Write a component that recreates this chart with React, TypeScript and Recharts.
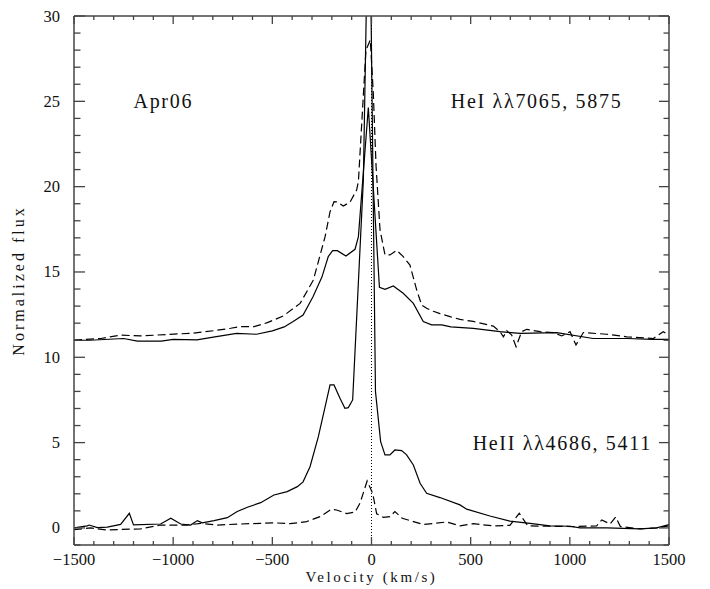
import React from 'react';
import { LineChart, Line, XAxis, YAxis, ReferenceLine, ReferenceDot } from 'recharts';

// ---------- data (velocity in km/s, normalized flux) ----------
const heiSolidVel = [-1500, -1420, -1250, -1180, -1060, -1000, -880, -790, -680, -580, -500, -440, -395, -345, -295, -250, -218, -196, -172, -129, -83, -66, -16, 40, 68, 110, 160, 211, 261, 303, 354, 400, 513, 648, 749, 934, 1118, 1287, 1420, 1500];
const heiSolidFlux = [11.0, 11.0, 11.1, 10.95, 10.95, 11.05, 11.02, 11.2, 11.4, 11.35, 11.55, 11.78, 12.1, 12.48, 13.55, 14.7, 15.9, 16.25, 16.25, 15.93, 16.33, 17.07, 24.64, 14.1, 13.98, 14.18, 13.75, 13.16, 12.09, 11.9, 11.9, 11.78, 11.7, 11.5, 11.4, 11.45, 11.1, 11.1, 11.05, 11.05];

const heiDashedVel = [-1500, -1365, -1265, -1164, -996, -912, -794, -710, -660, -592, -525, -445, -360, -293, -234, -209, -189, -172, -142, -108, -75, -66, -28, -6, 9, 23, 43, 68, 93, 127, 160, 194, 228, 253, 278, 312, 345, 396, 446, 513, 614, 648, 665, 682, 707, 729, 757, 783, 850, 917, 959, 1001, 1031, 1068, 1186, 1287, 1421, 1471, 1500];
const heiDashedFlux = [11.0, 11.1, 11.3, 11.25, 11.36, 11.4, 11.56, 11.7, 11.8, 11.8, 12.03, 12.42, 13.16, 14.53, 17.07, 18.53, 19.12, 19.1, 18.86, 19.1, 19.8, 20.3, 28.0, 28.6, 25.5, 21.2, 17.46, 16.0, 16.0, 16.27, 15.9, 15.4, 13.94, 13.06, 12.87, 12.7, 12.56, 12.38, 12.22, 12.1, 11.83, 11.5, 11.2, 11.56, 11.3, 10.62, 11.5, 11.64, 11.5, 11.45, 11.25, 11.5, 10.72, 11.45, 11.35, 11.2, 11.1, 11.5, 11.3];

const heiiSolidVel = [-1500, -1433, -1424, -1382, -1332, -1265, -1221, -1200, -1063, -1012, -962, -912, -878, -853, -794, -727, -677, -626, -559, -492, -425, -374, -345, -310, -268, -234, -209, -189, -159, -134, -117, -95, -41, -12, 20, 46, 68, 93, 118, 152, 177, 211, 245, 278, 345, 446, 480, 597, 698, 799, 900, 1001, 1051, 1186, 1354, 1438, 1500];
const heiiSolidFlux = [0.0, 0.12, 0.17, 0.02, 0.05, 0.21, 0.86, 0.18, 0.23, 0.57, 0.23, 0.17, 0.43, 0.3, 0.43, 0.6, 0.96, 1.21, 1.48, 1.93, 2.13, 2.42, 2.7, 3.59, 5.35, 7.1, 8.38, 8.38, 7.6, 7.01, 7.05, 7.5, 20.4, 40.0, 8.0, 5.06, 4.28, 4.28, 4.57, 4.53, 4.28, 3.69, 2.62, 2.03, 1.78, 1.35, 1.1, 0.7, 0.4, 0.27, 0.12, 0.1, 0.0, 0.0, -0.05, 0.0, 0.2];

const heiiDashedVel = [-1500, -1416, -1335, -1164, -1063, -930, -861, -777, -660, -562, -495, -411, -327, -260, -201, -176, -125, -83, -58, -22, 6, 26, 60, 93, 118, 155, 211, 261, 379, 446, 513, 614, 698, 745, 788, 900, 1017, 1135, 1161, 1203, 1231, 1255, 1354, 1438, 1500];
const heiiDashedFlux = [-0.1, 0.0, -0.12, -0.05, 0.17, 0.17, 0.27, 0.17, 0.23, 0.27, 0.3, 0.25, 0.37, 0.66, 1.1, 1.05, 0.84, 0.93, 1.45, 2.75, 2.03, 0.83, 0.62, 0.66, 0.96, 0.57, 0.37, 0.2, 0.35, 0.12, 0.25, 0.12, 0.15, 0.86, 0.12, 0.1, 0.08, 0.12, 0.47, 0.23, 0.64, 0.08, -0.05, 0.0, 0.12];

// ---------- ticks & labels ----------
const xMajorTicks = [-1500, -1000, -500, 0, 500, 1000, 1500];
const xMinorTicks = [-1500, -1400, -1300, -1200, -1100, -1000, -900, -800, -700, -600, -500, -400, -300, -200, -100, 0, 100, 200, 300, 400, 500, 600, 700, 800, 900, 1000, 1100, 1200, 1300, 1400, 1500];
const yMajorTicks = [0, 5, 10, 15, 20, 25, 30];
const yMinorTicks = [-1, 0, 1, 2, 3, 4, 5, 6, 7, 8, 9, 10, 11, 12, 13, 14, 15, 16, 17, 18, 19, 20, 21, 22, 23, 24, 25, 26, 27, 28, 29, 30];
const xTitle = 'Velocity (km/s)';
const yTitle = 'Normalized flux';
const epochLabel = 'Apr06';
const heiLabel = 'HeI λλ7065, 5875';
const heiiLabel = 'HeII λλ4686, 5411';

const rows = (vs: number[], fs: number[]) => vs.map((v, i) => ({ v, f: fs[i] }));
const heiSolidData = rows(heiSolidVel, heiSolidFlux);
const heiDashedData = rows(heiDashedVel, heiDashedFlux);
const heiiSolidData = rows(heiiSolidVel, heiiSolidFlux);
const heiiDashedData = rows(heiiDashedVel, heiiDashedFlux);

const FONT = "'Liberation Serif', 'Times New Roman', serif";
const AXIS = '#444';
const fmt = (v: number) => (v < 0 ? '\u2212' + Math.abs(v) : String(v));

const BottomTick = (p: any) => {
  const { x, y, payload } = p;
  const major = xMajorTicks.includes(payload.value);
  return (
    <g>
      <line x1={x} x2={x} y1={y} y2={y - (major ? 8 : 4)} stroke={AXIS} strokeWidth={1.3} />
      {major && (
        <text x={x} y={y + 20} textAnchor="middle" fontFamily={FONT} fontSize={16.5} fill="#111">{fmt(payload.value)}</text>
      )}
    </g>
  );
};
const TopTick = (p: any) => {
  const { x, y, payload } = p;
  const major = xMajorTicks.includes(payload.value);
  return <line x1={x} x2={x} y1={y} y2={y + (major ? 8 : 4)} stroke={AXIS} strokeWidth={1.3} />;
};
const LeftTick = (p: any) => {
  const { x, y, payload } = p;
  const major = yMajorTicks.includes(payload.value);
  return (
    <g>
      <line x1={x} x2={x + (major ? 11 : 6.5)} y1={y} y2={y} stroke={AXIS} strokeWidth={1.3} />
      {major && (
        <text x={x - 14} y={y + 5.5} textAnchor="end" fontFamily={FONT} fontSize={16.5} fill="#111">{fmt(payload.value)}</text>
      )}
    </g>
  );
};
const RightTick = (p: any) => {
  const { x, y, payload } = p;
  const major = yMajorTicks.includes(payload.value);
  return <line x1={x} x2={x - (major ? 10 : 5.5)} y1={y} y2={y} stroke={AXIS} strokeWidth={1.3} />;
};

const textLabel = (text: string) => (props: any) => {
  const vb = props.viewBox || {};
  return (
    <text x={vb.x} y={vb.y} fontFamily={FONT} fontSize={20} letterSpacing={1.7} fill="#111">{text}</text>
  );
};

const XTitle = (props: any) => {
  const vb = props.viewBox;
  return (
    <text x={vb.x + vb.width / 2} y={vb.y + 37} textAnchor="middle" fontFamily={FONT} fontSize={15} letterSpacing={2.6} fill="#111">{xTitle}</text>
  );
};
const YTitle = (props: any) => {
  const vb = props.viewBox;
  const cx = 16;
  const cy = vb.y + vb.height / 2;
  return (
    <text x={cx} y={cy} transform={`rotate(-90 ${cx} ${cy})`} textAnchor="middle" fontFamily={FONT} fontSize={16} letterSpacing={3} fill="#111">{yTitle}</text>
  );
};

export default function App() {
  return (
    <LineChart width={700} height={580} margin={{ top: 7, right: 38, bottom: 0, left: 0 }}>
      <XAxis
        dataKey="v"
        type="number"
        domain={[-1500, 1500]}
        allowDataOverflow
        ticks={xMinorTicks}
        interval={0}
        tickLine={false}
        tickSize={0}
        tickMargin={0}
        tick={<BottomTick />}
        axisLine={{ stroke: AXIS, strokeWidth: 1.5 }}
        height={43}
        label={<XTitle />}
      />
      <XAxis
        xAxisId="top"
        dataKey="v"
        orientation="top"
        type="number"
        domain={[-1500, 1500]}
        allowDataOverflow
        ticks={xMinorTicks}
        interval={0}
        tickLine={false}
        tickSize={0}
        tickMargin={0}
        tick={<TopTick />}
        axisLine={{ stroke: AXIS, strokeWidth: 1.5 }}
        height={1}
      />
      <YAxis
        type="number"
        domain={[-1, 30]}
        allowDataOverflow
        ticks={yMinorTicks}
        interval={0}
        tickLine={false}
        tickSize={0}
        tickMargin={0}
        tick={<LeftTick />}
        axisLine={{ stroke: AXIS, strokeWidth: 1.5 }}
        width={66}
        label={<YTitle />}
      />
      <YAxis
        yAxisId="right"
        orientation="right"
        type="number"
        domain={[-1, 30]}
        allowDataOverflow
        ticks={yMinorTicks}
        interval={0}
        tickLine={false}
        tickSize={0}
        tickMargin={0}
        tick={<RightTick />}
        axisLine={{ stroke: AXIS, strokeWidth: 1.5 }}
        width={1}
      />
      <ReferenceLine x={0} stroke="#000" strokeWidth={1} strokeDasharray="1 2" />
      <Line data={heiSolidData} dataKey="f" type="linear" stroke="#000" strokeWidth={1.2} dot={false} isAnimationActive={false} />
      <Line data={heiDashedData} dataKey="f" type="linear" stroke="#000" strokeWidth={1.2} strokeDasharray="8 4" dot={false} isAnimationActive={false} />
      <Line data={heiiSolidData} dataKey="f" type="linear" stroke="#000" strokeWidth={1.2} dot={false} isAnimationActive={false} />
      <Line data={heiiDashedData} dataKey="f" type="linear" stroke="#000" strokeWidth={1.2} strokeDasharray="8 4" dot={false} isAnimationActive={false} />
      <Line data={heiSolidData} dataKey="f" xAxisId="top" yAxisId="right" type="linear" stroke="none" dot={false} activeDot={false} legendType="none" isAnimationActive={false} />
      <ReferenceDot x={-1200} y={24.6} r={0} fill="none" stroke="none" label={textLabel(epochLabel)} />
      <ReferenceDot x={400} y={24.6} r={0} fill="none" stroke="none" label={textLabel(heiLabel)} />
      <ReferenceDot x={510} y={4.57} r={0} fill="none" stroke="none" label={textLabel(heiiLabel)} />
    </LineChart>
  );
}
